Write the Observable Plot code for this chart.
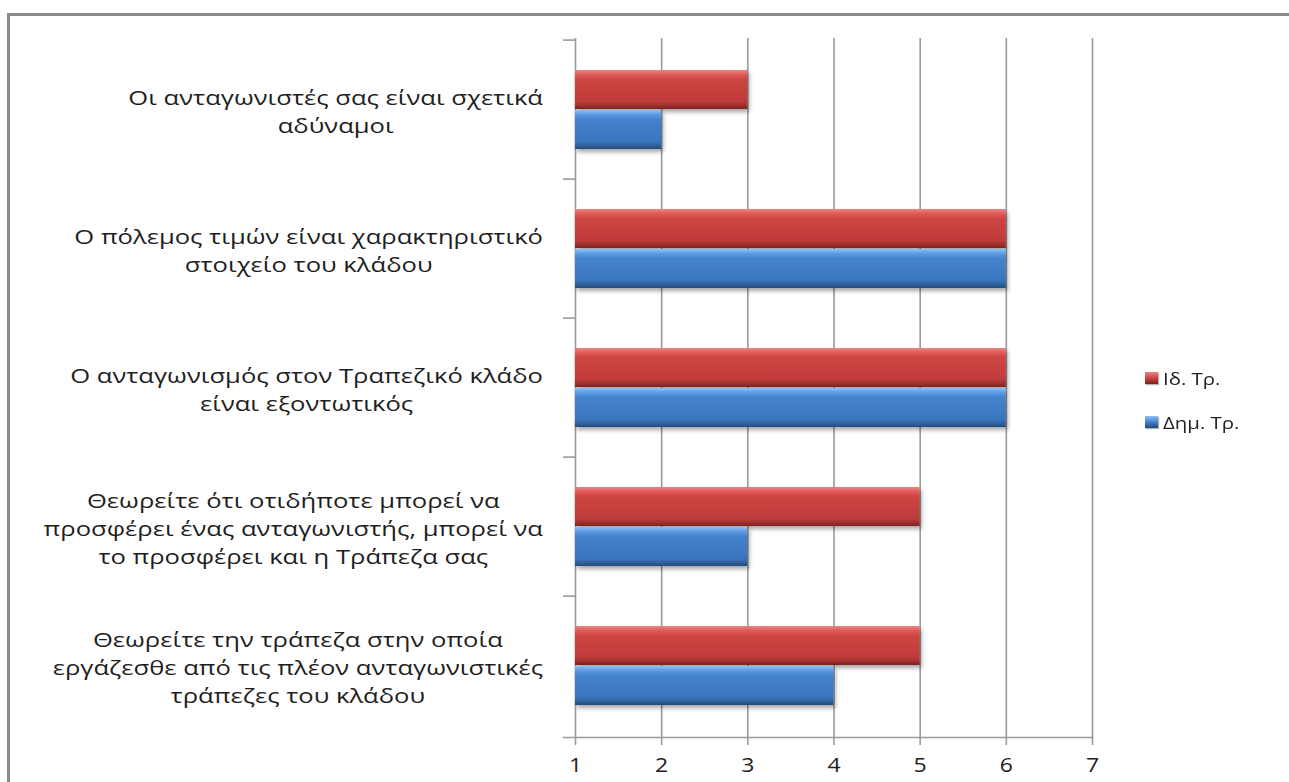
<!DOCTYPE html>
<html><head><meta charset="utf-8">
<script src="https://cdn.jsdelivr.net/npm/d3@7"></script>
<script src="https://cdn.jsdelivr.net/npm/@observablehq/plot@0.6"></script>
<style>
body{margin:0;background:#fff;}
#wrap{position:relative;width:1289px;height:782px;overflow:hidden;font-family:"Open Sans",sans-serif;background:#fff;}
#border{position:absolute;left:7px;top:13px;width:1400px;height:900px;border-top:3px solid #8a8a8a;border-left:3px solid #8a8a8a;}
#chart{position:absolute;left:0;top:0;}
#legend{position:absolute;left:1145px;top:367px;font-family:"Open Sans",sans-serif;font-size:17px;color:#222;}
#legend .item{display:flex;align-items:center;height:22px;margin-bottom:22px;}
#legend .sw{width:13px;height:12px;margin-right:5px;box-shadow:1px 1px 1px rgba(0,0,0,.3);}
#legend .tx{display:inline-block;transform:scaleX(1.2);transform-origin:left center;}
g[aria-label="bar"]{filter:drop-shadow(2px 3px 2px rgba(0,0,0,.35));}
</style></head>
<body><div id="wrap"><div id="border"></div><div id="chart"></div><div id="legend"></div></div>
<script>
const categories = [
  "Οι ανταγωνιστές σας είναι σχετικά αδύναμοι",
  "Ο πόλεμος τιμών είναι χαρακτηριστικό στοιχείο του κλάδου",
  "Ο ανταγωνισμός στον Τραπεζικό κλάδο είναι εξοντωτικός",
  "Θεωρείτε ότι οτιδήποτε μπορεί να προσφέρει ένας ανταγωνιστής, μπορεί να το προσφέρει και η Τράπεζα σας",
  "Θεωρείτε την τράπεζα στην οποία εργάζεσθε από τις πλέον ανταγωνιστικές τράπεζες του κλάδου"
];
const categoryLabels = [
  "Οι ανταγωνιστές σας είναι σχετικά\nαδύναμοι",
  "Ο πόλεμος τιμών είναι χαρακτηριστικό\nστοιχείο του κλάδου",
  "Ο ανταγωνισμός στον Τραπεζικό κλάδο\nείναι εξοντωτικός",
  "Θεωρείτε ότι οτιδήποτε μπορεί να\nπροσφέρει ένας ανταγωνιστής, μπορεί να\nτο προσφέρει και η Τράπεζα σας",
  "Θεωρείτε την τράπεζα στην οποία\nεργάζεσθε από τις πλέον ανταγωνιστικές\nτράπεζες του κλάδου"
];
const seriesNames = ["Ιδ. Τρ.", "Δημ. Τρ."];
const valuesId = [3, 6, 6, 5, 5];
const valuesDim = [2, 6, 6, 3, 4];
const xTicks = [1, 2, 3, 4, 5, 6, 7];
const gridTicks = [2, 3, 4, 5, 6, 7];
const baseline = 1;

const rowsId = categories.map((c, i) => ({category: c, series: seriesNames[0], value: valuesId[i]}));
const rowsDim = categories.map((c, i) => ({category: c, series: seriesNames[1], value: valuesDim[i]}));
const labelRows = categories.map((c, i) => ({category: c, label: categoryLabels[i]}));

const grey = "#9a9a9a";
const chart = Plot.plot({
  width: 1289,
  height: 782,
  marginLeft: 575,
  marginRight: 197,
  marginTop: 38,
  marginBottom: 45,
  style: {fontFamily: "Open Sans, sans-serif", fontSize: "19px", color: "#222", background: "transparent"},
  x: {domain: [1, 7], ticks: xTicks, label: null, tickFormat: d => String(d)},
  y: {domain: categories, padding: 0, axis: null, label: null},
  marks: [
    Plot.ruleX(gridTicks, {stroke: grey, strokeWidth: 1.6}),
    Plot.ruleX([baseline], {stroke: grey, strokeWidth: 1.6}),
    Plot.axisY({ticks: categories, tickSize: 12, tickFormat: null, label: null, stroke: grey, strokeWidth: 1.6, dy: -69.9}),
    Plot.frame({anchor: "bottom", insetLeft: -12, stroke: grey, strokeWidth: 1.6}),
    Plot.axisX({ticks: xTicks, tickSize: 8, tickPadding: 12, label: null, stroke: grey, strokeWidth: 1.6, fill: "#222", fontSize: 20, tickFormat: d => String(d)}),
    Plot.barX(rowsId, {y: "category", x1: () => baseline, x2: "value", fill: "url(#gradRed)", insetTop: 30, insetBottom: 70}),
    Plot.barX(rowsDim, {y: "category", x1: () => baseline, x2: "value", fill: "url(#gradBlue)", insetTop: 70, insetBottom: 30}),
    Plot.text(labelRows, {y: "category", text: "label", frameAnchor: "left", textAnchor: "middle", dx: -275, lineHeight: 1.42, fill: "#1e1e1e", fontSize: 20})
  ]
});

const ns = "http://www.w3.org/2000/svg";
const defs = document.createElementNS(ns, "defs");
function grad(id, stops) {
  const g = document.createElementNS(ns, "linearGradient");
  g.setAttribute("id", id);
  g.setAttribute("x1", "0"); g.setAttribute("y1", "0"); g.setAttribute("x2", "0"); g.setAttribute("y2", "1");
  stops.forEach(([o, c]) => {
    const s = document.createElementNS(ns, "stop");
    s.setAttribute("offset", o); s.setAttribute("stop-color", c);
    g.appendChild(s);
  });
  defs.appendChild(g);
}
grad("gradRed", [["0", "#e98683"], ["0.12", "#e05a57"], ["0.25", "#cc4542"], ["0.8", "#c03c3a"], ["0.92", "#9c2f2d"], ["1", "#7a2322"]]);
grad("gradBlue", [["0", "#8ec0f5"], ["0.12", "#5b9be3"], ["0.25", "#4482cd"], ["0.8", "#3a76be"], ["0.92", "#2f5f9a"], ["1", "#244a7a"]]);
chart.insertBefore(defs, chart.firstChild);
document.getElementById("chart").appendChild(chart);

// stretch labels horizontally like the original, then right-align each block at a common edge (lines stay centred)
const svgRect = chart.getBoundingClientRect();
const labelEdge = 543;
const stretch = "scale(1.28,1)";
chart.querySelectorAll('g[aria-label="text"] text').forEach(t => {
  const orig = t.getAttribute("transform") || "";
  t.setAttribute("transform", orig + " " + stretch);
  const r = t.getBoundingClientRect();
  const delta = labelEdge - (r.right - svgRect.left);
  t.setAttribute("transform", orig + ` translate(${delta},0) ` + stretch);
});
chart.querySelectorAll('g[aria-label="x-axis tick label"] text').forEach(t => {
  t.setAttribute("transform", (t.getAttribute("transform") || "") + " scale(1.15,1)");
});

// legend
const legendColors = {"Ιδ. Τρ.": "linear-gradient(#e98683,#c03c3a 60%,#7a2322)", "Δημ. Τρ.": "linear-gradient(#8ec0f5,#3a76be 60%,#244a7a)"};
const legend = document.getElementById("legend");
seriesNames.forEach(s => {
  const item = document.createElement("div");
  item.className = "item";
  const sw = document.createElement("span");
  sw.className = "sw";
  sw.style.background = legendColors[s];
  const tx = document.createElement("span");
  tx.className = "tx";
  tx.textContent = s;
  item.appendChild(sw); item.appendChild(tx);
  legend.appendChild(item);
});
</script>
</body></html>
